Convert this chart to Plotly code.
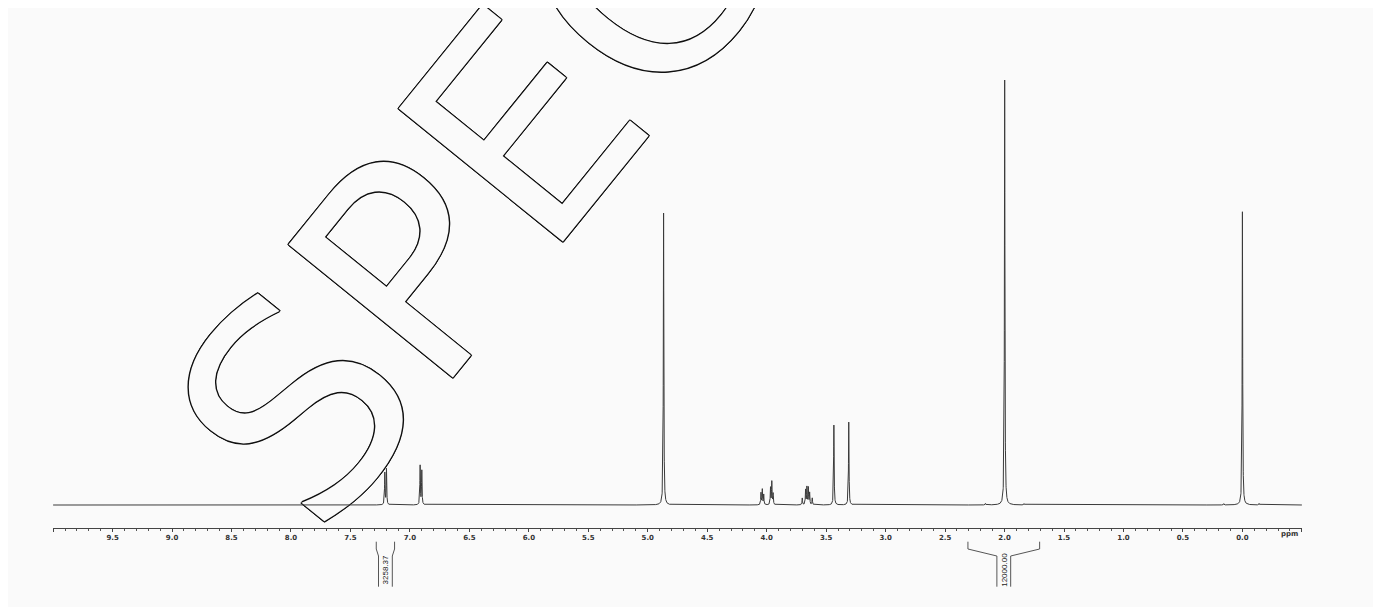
import numpy as np
import plotly.graph_objects as go

# ---------------- data ----------------
# peak list: chemical shift (ppm) and relative intensity (tallest = 100)
peak_ppm = [7.211, 7.197, 6.914, 6.900, 4.867,
            4.048, 4.037, 4.025, 3.968, 3.957, 3.946,
            3.701, 3.673, 3.662, 3.650, 3.639, 3.617,
            3.435, 3.310, 2.161, 1.999, 1.837, 0.157, 0.000, -0.140]
peak_height = [7.5, 8.4, 9.2, 8.0, 68.7,
               2.8, 3.6, 2.4, 4.0, 5.4, 2.6,
               1.6, 3.5, 4.1, 4.0, 2.8, 1.6,
               18.8, 19.5, 0.35, 100.0, 0.3, 0.3, 69.0, 0.35]
peak_hwhm = 0.0025  # line half width (ppm)

# integrals: start / end (ppm) and value labels
integral_start = [7.283, 2.308]
integral_end = [7.129, 1.705]
integral_label = ["3258.37", "12000.00"]

# axis ticks
tick_vals = [10.0, 9.5, 9.0, 8.5, 8.0, 7.5, 7.0, 6.5, 6.0, 5.5, 5.0, 4.5,
             4.0, 3.5, 3.0, 2.5, 2.0, 1.5, 1.0, 0.5, 0.0, -0.5]
tick_text = ["", "9.5", "9.0", "8.5", "8.0", "7.5", "7.0", "6.5", "6.0", "5.5",
             "5.0", "4.5", "4.0", "3.5", "3.0", "2.5", "2.0", "1.5", "1.0", "0.5",
             "0.0", ""]
axis_unit = "ppm"
watermark = "SPEC"

# ---------------- build spectrum from the peak list ----------------
ppm = np.arange(-0.5, 10.0005, 0.0005)
intensity = np.zeros_like(ppm)
for p, h in zip(peak_ppm, peak_height):
    intensity += h / (1.0 + ((ppm - p) / peak_hwhm) ** 2)

BG = "#fafafa"
LINE = "#3a3a3a"

fig = go.Figure()

# watermark (outlined letters), drawn beneath the spectrum
outline = ", ".join(f"{dx}px {dy}px 0 #111" for dx, dy in
                    [(1, 0), (-1, 0), (0, 1), (0, -1), (1, 1), (-1, -1), (1, -1), (-1, 1)])
fig.add_trace(go.Bar(
    x=[6.45], y=[2.0], base=[73.1], width=0.01,
    marker=dict(color="rgba(0,0,0,0)", line=dict(width=0)),
    text=[watermark], textposition="inside", insidetextanchor="middle",
    constraintext="none", textangle=-51, cliponaxis=False,
    textfont=dict(family="DejaVu Sans", size=290, color=BG, shadow=outline),
    hoverinfo="skip", showlegend=False,
))

fig.add_trace(go.Scatter(
    x=ppm, y=intensity, mode="lines",
    line=dict(color=LINE, width=1),
    hoverinfo="skip", showlegend=False,
))

# page is offset 8 px by the body margin; plot area spans page y 8..528
def py(page_y):
    return (528.0 - page_y) / 520.0

shapes = []
annotations = []
for s, e, lab in zip(integral_start, integral_end, integral_label):
    c = (s + e) / 2.0
    half = 0.058
    for outer, inner in ((s, c + half), (e, c - half)):
        path = (f"M {outer},{py(541.7)} L {outer},{py(549)} "
                f"L {inner},{py(556)} L {inner},{py(586.7)}")
        shapes.append(dict(type="path", xref="x", yref="paper", path=path,
                           line=dict(color="#555", width=1)))
    annotations.append(dict(
        x=c, y=py(570), xref="x", yref="paper", text=lab, showarrow=False,
        textangle=-90, xanchor="center", yanchor="middle",
        font=dict(family="Liberation Sans Narrow, Liberation Sans", size=8, color="#222"),
    ))

annotations.append(dict(
    x=-0.4, y=py(534.3), xref="x", yref="paper", text=axis_unit, showarrow=False,
    xanchor="center", yanchor="middle",
    font=dict(family="DejaVu Sans", size=7, color="#333", weight="bold"),
))

fig.update_layout(
    width=1373, height=599,
    margin=dict(l=45, r=79, t=0, b=79),
    paper_bgcolor=BG, plot_bgcolor=BG,
    showlegend=False,
    shapes=shapes, annotations=annotations,
    xaxis=dict(
        range=[10.001, -0.501], showgrid=False, zeroline=False,
        showline=True, linecolor="#444", linewidth=1,
        tickmode="array", tickvals=tick_vals, ticktext=tick_text,
        ticks="outside", ticklen=3, tickcolor="#444", tickwidth=1,
        tickfont=dict(family="DejaVu Sans", size=7, color="#333", weight="bold"),
        minor=dict(tickmode="linear", tick0=0.0, dtick=0.1, ticks="outside",
                   ticklen=2, tickcolor="#555", tickwidth=1),
    ),
    yaxis=dict(range=[-23 / 4.25, 497 / 4.25], visible=False,
               showgrid=False, zeroline=False),
)

fig.write_html("out.html")
